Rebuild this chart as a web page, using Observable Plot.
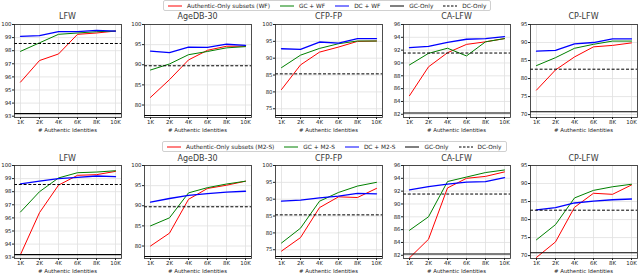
<!DOCTYPE html>
<html><head><meta charset="utf-8">
<script src="https://cdn.jsdelivr.net/npm/d3@7"></script>
<script src="https://cdn.jsdelivr.net/npm/@observablehq/plot@0.6"></script>
<style>
body{margin:0;background:#fff;font-family:"DejaVu Sans",sans-serif;}
#root{position:relative;width:640px;height:274px;overflow:hidden;background:#fff;}
.panel{position:absolute;}
.title{position:absolute;font-size:8px;font-weight:normal;text-align:center;color:#3a3a3a;width:140px;line-height:1;}
.xlab{position:absolute;font-size:5.4px;text-align:center;color:#222;width:140px;line-height:1;}
.legend{position:absolute;border:0.8px solid #d0d0d0;border-radius:2px;display:flex;align-items:center;font-size:5.8px;height:11px;padding:0 4px;box-sizing:border-box;background:#fff;color:#222;white-space:nowrap;}
.legend .item{display:flex;align-items:center;margin-right:10px;}
.legend .item:last-child{margin-right:0;}
.legend svg{margin-right:5px;}
</style></head><body><div id="root"></div>
<script>
const xLabels = ["1K","2K","4K","6K","8K","10K"];
const benchmarks = ["LFW","AgeDB-30","CFP-FP","CA-LFW","CP-LFW"];
const yTicks = [
  [93,94,95,96,97,98,99,100],
  [80,85,90,95,100],
  [75,80,85,90,95,100],
  [82,84,86,88,90,92,94,96],
  [70,75,80,85,90,95]
];
const yDomains = [[92.9,100],[76.9,100],[72.4,100],[81.5,96],[69.2,95]];

// Baselines (shared by both rows)
const gcOnly = [93.2, 77.4, 73.0, 82.2, 70.8];
const dcOnly = [98.55, 89.75, 85.35, 91.55, 82.6];

// Row 1: WF
const wfAuth = [
  [95.6, 97.25, 97.75, 99.25, 99.35, 99.5],
  [81.9, 86.3, 91.2, 93.6, 94.6, 94.6],
  [80.7, 88.0, 91.8, 93.3, 95.0, 95.1],
  [84.9, 89.4, 91.6, 92.9, 93.3, 93.8],
  [76.8, 82.4, 86.0, 88.8, 89.2, 89.9]
];
const wfGC = [
  [97.95, 98.6, 99.25, 99.35, 99.45, 99.5],
  [88.7, 90.2, 92.5, 93.3, 94.2, 94.5],
  [87.2, 90.9, 92.9, 94.3, 95.1, 95.1],
  [89.7, 91.5, 92.3, 91.1, 93.3, 93.8],
  [83.6, 85.8, 88.4, 89.5, 90.4, 90.4]
];
const wfDC = [
  [99.1, 99.15, 99.45, 99.45, 99.55, 99.5],
  [93.4, 93.0, 94.4, 94.3, 95.1, 94.8],
  [92.8, 92.6, 94.8, 94.5, 95.8, 95.8],
  [92.4, 92.6, 93.2, 93.7, 93.8, 94.1],
  [87.6, 87.8, 89.6, 90.0, 91.0, 91.0]
];

// Row 2: M2-S
const m2sAuth = [
  [93.2, 96.4, 98.5, 99.25, 99.3, 99.55],
  [80.0, 83.2, 91.6, 94.3, 95.1, 96.1],
  [74.6, 78.6, 87.5, 90.7, 90.5, 93.2],
  [81.6, 84.5, 92.5, 94.0, 94.3, 95.0],
  [69.5, 73.8, 83.4, 87.3, 87.0, 89.6]
];
const m2sGC = [
  [96.45, 98.0, 99.05, 99.45, 99.5, 99.6],
  [85.0, 87.0, 93.2, 94.5, 95.4, 96.1],
  [77.0, 81.4, 89.4, 92.0, 93.9, 95.0],
  [85.9, 88.0, 93.5, 94.2, 94.9, 95.3],
  [74.4, 78.6, 86.0, 88.1, 89.1, 89.8]
];
const m2sDC = [
  [98.6, 98.8, 99.0, 99.1, 99.2, 99.15],
  [90.9, 91.8, 92.6, 93.0, 93.4, 93.6],
  [89.4, 89.7, 90.4, 90.9, 91.7, 91.6],
  [92.2, 92.7, 93.1, 93.4, 93.5, 94.1],
  [82.7, 83.3, 84.6, 85.1, 85.5, 85.7]
];

const wfNames = ["Authentic-Only subsets (WF)","GC + WF","DC + WF","GC-Only","DC-Only"];
const m2sNames = ["Authentic-Only subsets (M2-S)","GC + M2-S","DC + M2-S","GC-Only","DC-Only"];
const xAxisLabel = "# Authentic Identities";

// ---- layout / style ----
const colors = ["#ff0000","#008000","#0000ff"];
const widths = [1, 1, 1.3];
const rows = [
  {auth: wfAuth, gc: wfGC, dc: wfDC, names: wfNames, frameTop: 24, legendTop: 0, legendLeft: 163, titleY: 13},
  {auth: m2sAuth, gc: m2sGC, dc: m2sDC, names: m2sNames, frameTop: 165, legendTop: 141, legendLeft: 162, titleY: 154.5}
];
const frameLefts = [14, 144, 275, 403, 530];
const frameW = 107, frameH = 93;
const mL = 16, mR = 4, mT = 2, mB = 10;
const root = document.getElementById("root");

function legend(row) {
  const div = document.createElement("div");
  div.className = "legend";
  div.style.left = row.legendLeft + "px";
  div.style.top = row.legendTop + "px";
  const styles = [
    {c: colors[0], d: null}, {c: colors[1], d: null}, {c: colors[2], d: null},
    {c: "#000", d: null}, {c: "#000", d: "2.5,1.5"}
  ];
  row.names.forEach((n, i) => {
    const it = document.createElement("div");
    it.className = "item";
    it.innerHTML = `<svg width="14" height="4"><line x1="0" x2="14" y1="2" y2="2" stroke="${styles[i].c}" stroke-width="1" ${styles[i].d ? `stroke-dasharray="${styles[i].d}"` : ""}/></svg><span>${n}</span>`;
    div.appendChild(it);
  });
  root.appendChild(div);
}

rows.forEach(row => {
  legend(row);
  benchmarks.forEach((b, i) => {
    const data = [];
    [row.auth, row.gc, row.dc].forEach((arr, s) => {
      xLabels.forEach((x, j) => data.push({x, y: arr[i][j], s}));
    });
    const marks = [
      Plot.ruleY(yTicks[i], {stroke: "#e0e0e0", strokeWidth: 0.8}),
      Plot.ruleX(xLabels, {stroke: "#e0e0e0", strokeWidth: 0.8}),
    ];
    [0,1,2].forEach(s => {
      marks.push(Plot.line(data.filter(d => d.s === s), {x: "x", y: "y", stroke: colors[s], strokeWidth: widths[s]}));
    });
    marks.push(Plot.ruleY([gcOnly[i]], {stroke: "#000", strokeWidth: 1.2}));
    marks.push(Plot.ruleY([dcOnly[i]], {stroke: "#000", strokeWidth: 1, strokeDasharray: "3,1.8"}));
    marks.push(Plot.frame({stroke: "#222", strokeWidth: 0.8}));
    const p = Plot.plot({
      width: frameW + mL + mR,
      height: frameH + mT + mB,
      marginLeft: mL, marginRight: mR, marginTop: mT, marginBottom: mB,
      style: {fontSize: "5.4px", fontFamily: "DejaVu Sans", background: "transparent", color: "#222"},
      x: {type: "point", domain: xLabels, padding: 0.2, label: null, tickSize: 2, tickPadding: 1},
      y: {domain: yDomains[i], ticks: yTicks[i], tickFormat: d => String(d), label: null, tickSize: 2, tickPadding: 1},
      marks
    });
    p.classList.add("panel");
    p.style.left = (frameLefts[i] - mL) + "px";
    p.style.top = (row.frameTop - mT) + "px";
    root.appendChild(p);

    const t = document.createElement("div");
    t.className = "title";
    t.textContent = b;
    t.style.left = (frameLefts[i] + frameW / 2 - 70) + "px";
    t.style.top = row.titleY + "px";
    root.appendChild(t);

    const xl = document.createElement("div");
    xl.className = "xlab";
    xl.textContent = xAxisLabel;
    xl.style.left = (frameLefts[i] + frameW / 2 - 70) + "px";
    xl.style.top = (row.frameTop + frameH + 11) + "px";
    root.appendChild(xl);
  });
});
</script>
</body></html>
